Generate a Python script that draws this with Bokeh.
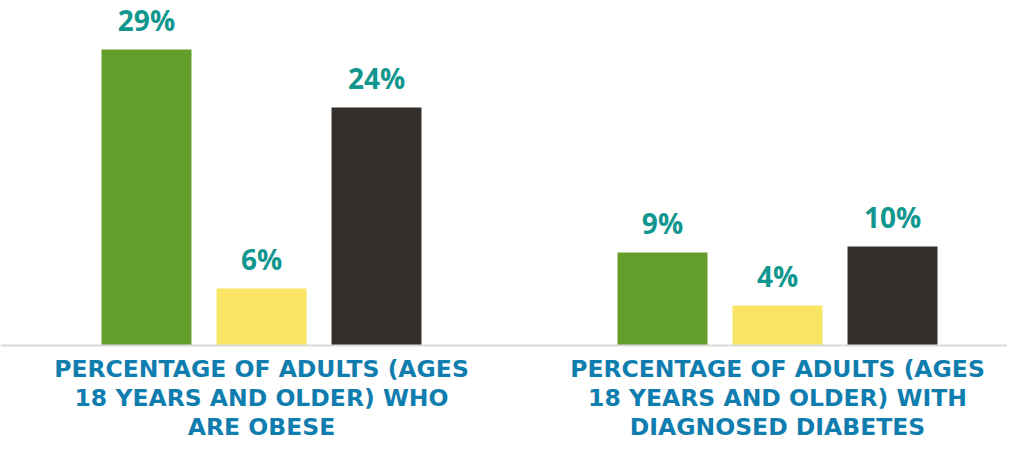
from bokeh.plotting import figure
from bokeh.models import ColumnDataSource, Range1d, Span
from bokeh.core.properties import value
from bokeh.embed import file_html
from bokeh.resources import INLINE

groups = ["Obese", "Diabetes"]
series = ["Series A", "Series B", "Series C"]
colors = ["#639E2A", "#F9E464", "#352F2C"]
values = [[29.6, 5.7, 23.8], [9.3, 4.0, 9.9]]
labels = [["29%", "6%", "24%"], ["9%", "4%", "10%"]]
cat_lines = [
    ["PERCENTAGE OF ADULTS (AGES", "18 YEARS AND OLDER) WHO", "ARE OBESE"],
    ["PERCENTAGE OF ADULTS (AGES", "18 YEARS AND OLDER) WITH", "DIAGNOSED DIABETES"],
]

step = 0.2229
bar_w = 0.1744

xs, tops, cols, labs, label_y = [], [], [], [], []
for gi, g in enumerate(groups):
    for si, s in enumerate(series):
        xs.append(gi + (si - 1) * step)
        tops.append(values[gi][si])
        cols.append(colors[si])
        labs.append(labels[gi][si])
        label_y.append(values[gi][si] + 3.0)

src = ColumnDataSource(dict(x=xs, top=tops, color=cols, label=labs, ly=label_y))

cx, cy, ct = [], [], []
for gi, lines in enumerate(cat_lines):
    for li, t in enumerate(lines):
        cx.append(gi)
        cy.append(-0.9 - li * 2.9)
        ct.append(t)
cat_src = ColumnDataSource(dict(x=cx, y=cy, text=ct))

W, H = 1007, 440
BASE = 345
p = figure(width=W, height=H, output_backend="svg", toolbar_location=None,
           x_range=Range1d(-261 / 516, (W - 261) / 516),
           y_range=Range1d(-(H - BASE) / 10, BASE / 10),
           min_border=0)
p.axis.visible = False
p.grid.visible = False
p.outline_line_color = None
p.background_fill_color = "white"

p.add_layout(Span(location=0, dimension="width", line_color="#DADADA", line_width=2))

p.vbar(x="x", top="top", bottom=0, width=bar_w, color="color", source=src, line_color=None)

p.text(x="x", y="ly", text="label", source=src, text_align="center",
       text_baseline="alphabetic", text_color="#11978F",
       text_font=value("Open Sans"), text_font_style="bold", text_font_size="28px")

p.text(x="x", y="y", text="text", source=cat_src, text_align="center",
       text_baseline="top", text_color="#0F7DAE",
       text_font=value("DejaVu Sans"), text_font_style="bold", text_font_size="23.5px")

open("out.html", "w").write(file_html(p, INLINE))
